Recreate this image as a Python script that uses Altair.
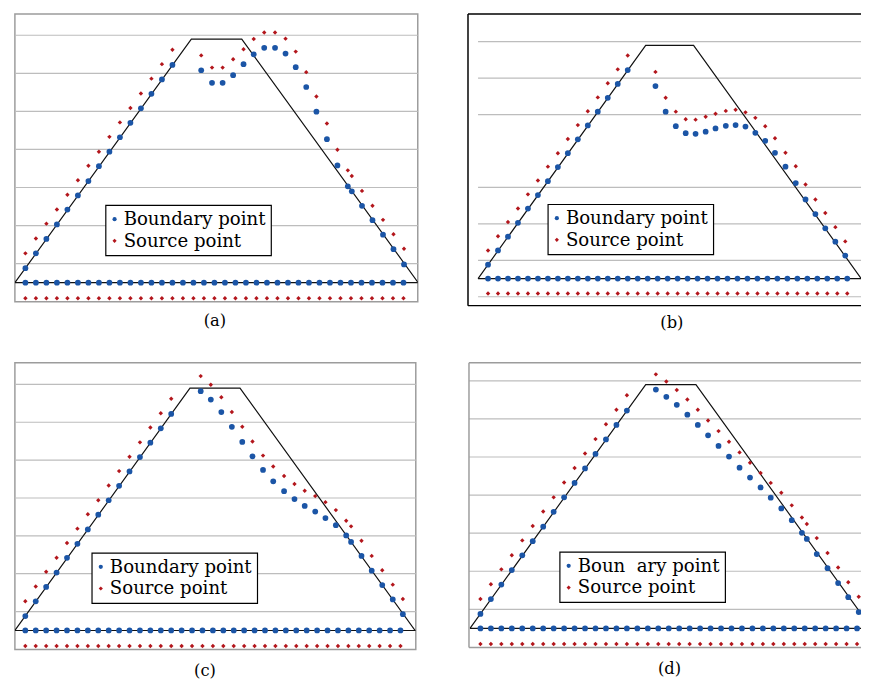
import altair as alt
import pandas as pd

# ---------------- data ----------------
BLUE = "#1b55a6"
RED = "#b3161c"

BOTTOM_X = [1, 2, 3, 4, 5, 6, 7, 8, 9, 10, 11, 12, 13, 14, 15, 16, 17, 18, 19,
            20, 21, 22, 23, 24, 25, 26, 27, 28, 29, 30, 31, 32, 33, 34, 35, 36, 37]
BOTTOM_BOUNDARY_Y = [0.5] * len(BOTTOM_X)
BOTTOM_SOURCE_Y = [0.09] * len(BOTTOM_X)

LEFT_X = [1, 2, 3, 4, 5, 6, 7, 8, 9, 10, 11, 12, 13, 14, 15]
LEFT_BOUNDARY_Y = [0.88, 1.27, 1.65, 2.03, 2.42, 2.79, 3.17, 3.56, 3.94, 4.32, 4.70, 5.08, 5.46, 5.84, 6.22]
LEFT_SOURCE_Y = [1.27, 1.66, 2.05, 2.42, 2.81, 3.19, 3.57, 3.94, 4.33, 4.71, 5.09, 5.47, 5.86, 6.24, 6.62]

A_RIGHT_X = [17.74, 18.77, 19.78, 20.78, 21.77, 22.74, 23.74, 24.77, 25.77, 26.74, 27.74,
             28.71, 29.71, 30.71, 31.70, 32.08, 33.05, 34.05, 35.05, 36.05, 37.05]
A_RIGHT_BOUNDARY_Y = [6.08, 5.75, 5.75, 5.95, 6.24, 6.50, 6.67, 6.67, 6.52, 6.16, 5.64,
                      4.99, 4.27, 3.58, 3.03, 2.90, 2.52, 2.14, 1.76, 1.38, 0.98]
A_RIGHT_SOURCE_Y = [6.47, 6.15, 6.15, 6.37, 6.63, 6.90, 7.07, 7.07, 6.91, 6.57, 6.03,
                    5.39, 4.68, 3.99, 3.45, 3.30, 2.91, 2.52, 2.15, 1.77, 1.39]

B_RIGHT_X = [17.78, 18.80, 19.82, 20.81, 21.80, 22.81, 23.80, 24.83, 25.81, 26.80,
             27.79, 28.78, 29.76, 30.81, 31.84, 32.82, 33.81, 34.80, 35.81, 36.80]
B_RIGHT_BOUNDARY_Y = [5.78, 5.08, 4.68, 4.49, 4.47, 4.53, 4.62, 4.69, 4.71, 4.67,
                      4.50, 4.28, 3.95, 3.57, 3.12, 2.67, 2.27, 1.88, 1.51, 1.13]
B_RIGHT_SOURCE_Y = [6.17, 5.46, 5.08, 4.87, 4.86, 4.94, 5.02, 5.10, 5.13, 5.06,
                    4.91, 4.68, 4.35, 3.95, 3.58, 3.08, 2.67, 2.30, 1.91, 1.52]

C_RIGHT_X = [17.83, 18.80, 19.81, 20.82, 21.82, 22.80, 23.81, 24.79, 25.83, 26.83, 27.81,
             28.82, 29.80, 30.80, 31.79, 32.26, 33.26, 34.24, 35.25, 36.26, 37.23]
C_RIGHT_BOUNDARY_Y = [6.82, 6.60, 6.27, 5.88, 5.48, 5.10, 4.74, 4.44, 4.18, 3.97, 3.79,
                      3.64, 3.47, 3.28, 3.01, 2.84, 2.47, 2.08, 1.70, 1.32, 0.93]
C_RIGHT_SOURCE_Y = [7.22, 6.99, 6.66, 6.27, 5.88, 5.49, 5.12, 4.83, 4.58, 4.37, 4.19,
                    4.05, 3.89, 3.68, 3.40, 3.25, 2.87, 2.47, 2.09, 1.71, 1.33]

D_RIGHT_X = [17.77, 18.77, 19.77, 20.78, 21.78, 22.76, 23.76, 24.76, 25.77, 26.77, 27.78,
             28.75, 29.76, 30.76, 31.73, 32.20, 33.15, 34.18, 35.19, 36.16, 37.16]
D_RIGHT_BOUNDARY_Y = [6.77, 6.58, 6.37, 6.11, 5.84, 5.57, 5.29, 5.01, 4.72, 4.46, 4.20,
                      3.93, 3.65, 3.34, 3.01, 2.85, 2.45, 2.08, 1.69, 1.32, 0.93]
D_RIGHT_SOURCE_Y = [7.17, 6.98, 6.76, 6.51, 6.24, 5.96, 5.68, 5.40, 5.12, 4.85, 4.58,
                    4.32, 4.06, 3.73, 3.41, 3.24, 2.87, 2.48, 2.10, 1.71, 1.33]

TRAPEZOID_X = [0.0, 16.8, 21.6, 38.4, 0.0]
TRAPEZOID_Y = [0.5, 6.9, 6.9, 0.5, 0.5]

GRID_FULL = [1, 2, 3, 4, 5, 6, 7]
GRID_B = [0, 1, 2, 3, 5, 6, 7]

PANEL_LABELS = ["(a)", "(b)", "(c)", "(d)"]
BOUNDARY_LABELS = ["Boundary point", "Boundary point", "Boundary point", "Boun\u00a0\u00a0ary point"]
SOURCE_LABEL = "Source point"

SERIF = "DejaVu Serif"


def panel(right_x, right_b, right_s, blabel, grid, grid_from_zero, xdom, ydom,
          w, h, legxy, label, toff, tdx, frame):
    pts = []
    for xs, ys, kind in [
        (BOTTOM_X, BOTTOM_BOUNDARY_Y, "b"), (BOTTOM_X, BOTTOM_SOURCE_Y, "s"),
        (LEFT_X, LEFT_BOUNDARY_Y, "b"), (LEFT_X, LEFT_SOURCE_Y, "s"),
        (right_x, right_b, "b"), (right_x, right_s, "s"),
    ]:
        for xv, yv in zip(xs, ys):
            pts.append({"x": xv, "y": yv, "kind": kind,
                        "series": blabel if kind == "b" else SOURCE_LABEL})
    pts = pd.DataFrame(pts)

    xs = alt.Scale(domain=xdom, nice=False, zero=False)
    ys = alt.Scale(domain=ydom, nice=False, zero=False)
    X = lambda f: alt.X(f, type="quantitative", scale=xs, axis=None)
    Y = lambda f: alt.Y(f, type="quantitative", scale=ys, axis=None)

    gdf = pd.DataFrame({"gy": grid, "gx0": [0.0] * len(grid), "gx1": [40.0] * len(grid)})
    if grid_from_zero:
        grid_layer = alt.Chart(gdf).mark_rule(color="#bdbdbd", strokeWidth=1.2, clip=True).encode(
            x=X("gx0"), x2="gx1", y=Y("gy"))
    else:
        grid_layer = alt.Chart(gdf).mark_rule(color="#bdbdbd", strokeWidth=1.2).encode(y=Y("gy"))

    tdf = pd.DataFrame({"tx": TRAPEZOID_X, "ty": TRAPEZOID_Y, "i": list(range(len(TRAPEZOID_X)))})
    trap = alt.Chart(tdf).mark_line(color="#111111", strokeWidth=1.2, clip=True).encode(
        x=X("tx"), y=Y("ty"), order="i:Q")

    leg = alt.Legend(orient="none", legendX=legxy[0], legendY=legxy[1], title=None,
                     fillColor="white", strokeColor="black",
                     padding=5, rowPadding=3, labelFont=SERIF, labelFontSize=18.4,
                     labelColor="black", symbolSize=18, symbolOffset=-5, labelOffset=0,
                     symbolStrokeWidth=0)
    dom = [blabel, SOURCE_LABEL]
    color = alt.Color("series:N", scale=alt.Scale(domain=dom, range=[BLUE, RED]), legend=leg)
    shape = alt.Shape("series:N", scale=alt.Scale(domain=dom, range=["circle", "diamond"]), legend=leg)

    base = alt.Chart(pts).encode(x=X("x"), y=Y("y"), color=color, shape=shape)
    bpts = base.transform_filter(alt.datum.kind == "b").mark_point(
        filled=True, size=34, opacity=1, clip=True)
    spts = base.transform_filter(alt.datum.kind == "s").mark_point(
        filled=True, size=20, opacity=1, clip=True)

    layers = [grid_layer, trap, bpts, spts]
    if frame is not None:
        one = alt.Data(values=[{"k": 1}])
        layers += [
            alt.Chart(one).mark_rule(color=frame, strokeWidth=1.5).encode(
                x=alt.value(0), y=alt.value(0), y2=alt.value(h)),
            alt.Chart(one).mark_rule(color=frame, strokeWidth=1.5).encode(
                x=alt.value(0), x2=alt.value(w), y=alt.value(0)),
            alt.Chart(one).mark_rule(color=frame, strokeWidth=1.5).encode(
                x=alt.value(0), x2=alt.value(w), y=alt.value(h)),
        ]
        view = alt.ViewBackground(stroke=None, fill="white")
    else:
        view = alt.ViewBackground(stroke="#9c9c9c", strokeWidth=1.5, fill="white")

    title = alt.TitleParams(label, orient="bottom", anchor="middle", frame="group",
                            font=SERIF, fontSize=16.5, fontWeight="normal", color="black",
                            offset=toff, dx=tdx)
    return alt.layer(*layers).properties(width=w, height=h, view=view, title=title)


pa = panel(A_RIGHT_X, A_RIGHT_BOUNDARY_Y, A_RIGHT_SOURCE_Y, BOUNDARY_LABELS[0], GRID_FULL, False,
           [0, 38.36], [0, 7.556], 409, 292, (92, 194), PANEL_LABELS[0], 12, -1.5, None)
pb = panel(B_RIGHT_X, B_RIGHT_BOUNDARY_Y, B_RIGHT_SOURCE_Y, BOUNDARY_LABELS[1], GRID_B, True,
           [-1.007, 38.38], [-0.243, 7.757], 399, 296, (81, 193), PANEL_LABELS[1], 9, 7.5, "black")
pc = panel(C_RIGHT_X, C_RIGHT_BOUNDARY_Y, C_RIGHT_SOURCE_Y, BOUNDARY_LABELS[2], GRID_FULL, False,
           [0, 38.47], [0, 7.572], 407, 291, (78, 193), PANEL_LABELS[2], 14.5, -10.5, None)
pd_ = panel(D_RIGHT_X, D_RIGHT_BOUNDARY_Y, D_RIGHT_SOURCE_Y, BOUNDARY_LABELS[3], GRID_FULL, False,
            [-0.094, 37.38], [0, 7.474], 398, 289, (92, 192), PANEL_LABELS[3], 13.5, 4.5, "#9c9c9c")

res = dict(x="independent", y="independent", color="independent", shape="independent")
row1 = alt.hconcat(pa, pb, spacing=48).resolve_scale(**res).resolve_legend(color="independent", shape="independent")
row2 = alt.hconcat(pc, pd_, spacing=51).resolve_scale(**res).resolve_legend(color="independent", shape="independent")

chart = alt.vconcat(row1, row2, spacing=30).resolve_scale(**res).resolve_legend(
    color="independent", shape="independent").properties(
    padding={"left": 5, "top": 0, "right": 0, "bottom": 0}
).configure(background="white").configure_legend(strokeWidth=1.2, cornerRadius=0)

chart.save("out.html", embed_options={"renderer": "svg", "actions": False})
